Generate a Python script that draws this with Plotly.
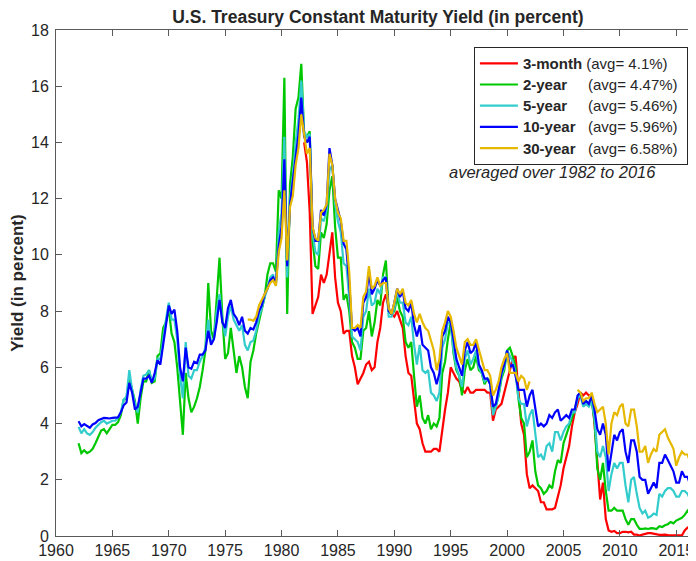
import plotly.graph_objects as go

# Quarterly readings (start of each quarter)
START_10Y = 1962.0
Y10 = [
    4.08, 3.90, 3.98, 3.90,  3.85, 3.97, 4.02, 4.12,
    4.17, 4.20, 4.19, 4.18,  4.20, 4.21, 4.22, 4.40,
    4.65, 4.75, 5.45, 5.10,  4.50, 4.60, 5.05, 5.60,
    5.60, 5.70, 5.45, 5.80,  6.25, 6.10, 6.80, 7.60,
    8.20, 7.90, 8.05, 7.30,  6.00, 5.50, 6.70, 6.00,
    5.95, 6.20, 6.15, 6.45,  6.45, 6.60, 7.30, 6.80,
    7.00, 7.60, 8.40, 7.60,  7.40, 8.10, 8.40, 7.90,
    7.75, 7.50, 7.80, 7.30,  7.20, 7.40, 7.35, 7.60,
    8.00, 8.20, 8.60, 8.80,  9.10, 9.20, 9.00, 10.30,
    11.00, 13.40, 9.60, 11.80,  12.60, 13.60, 14.30, 15.60,
    14.20, 14.00, 14.20, 11.00,  10.50, 10.50, 11.60, 11.40,
    11.80, 13.80, 13.20, 12.00,  11.60, 11.20, 10.40, 10.20,
    9.00, 7.40, 7.30, 7.40,  7.10, 8.30, 8.50, 9.40,
    8.60, 8.80, 9.10, 8.90,  9.10, 9.20, 8.00, 7.90,
    8.30, 8.80, 8.50, 8.70,  8.10, 8.00, 8.30, 7.50,
    7.10, 7.50, 6.80, 6.70,  6.60, 6.00, 5.80, 5.40,
    5.80, 7.10, 7.30, 7.80,  7.60, 7.00, 6.30, 6.00,
    5.70, 6.60, 6.90, 6.50,  6.60, 6.90, 6.10, 5.90,
    5.60, 5.60, 5.40, 4.60,  4.70, 5.20, 5.80, 6.10,
    6.60, 6.00, 6.10, 5.70,  5.20, 5.20, 5.20, 4.60,
    5.00, 5.20, 4.60, 3.90,  4.00, 3.90, 4.00, 4.30,
    4.20, 4.40, 4.50, 4.10,  4.20, 4.30, 4.20, 4.50,
    4.50, 5.00, 5.10, 4.70,  4.80, 4.70, 5.00, 4.50,
    3.80, 3.60, 4.00, 3.60,  2.30, 3.00, 3.60, 3.40,
    3.70, 3.80, 3.00, 2.60,  3.40, 3.40, 3.00, 2.10,
    2.00, 2.00, 1.50, 1.70,  1.90, 1.70, 2.60, 2.60,
    2.90, 2.70, 2.50, 2.30,  1.90, 1.90, 2.30, 2.10,
    2.10, 1.80, 1.50, 1.60,
]

START_5Y = 1962.0
Y5 = [
    3.88, 3.65, 3.80, 3.65,  3.60, 3.70, 3.85, 3.95,
    4.05, 4.10, 4.00, 4.05,  4.10, 4.10, 4.20, 4.40,
    4.85, 4.95, 5.90, 5.20,  4.70, 4.40, 5.20, 5.70,
    5.75, 5.90, 5.50, 5.60,  6.30, 6.30, 7.10, 7.70,
    8.30, 7.70, 7.70, 7.00,  5.70, 4.90, 6.90, 5.70,
    5.60, 5.90, 5.90, 6.20,  6.40, 6.70, 7.70, 6.90,
    7.00, 8.00, 8.60, 7.70,  7.10, 7.80, 8.20, 7.70,
    7.50, 7.30, 7.50, 6.80,  6.60, 6.90, 6.95, 7.30,
    7.80, 8.10, 8.50, 8.80,  9.20, 9.30, 8.90, 10.80,
    11.50, 14.20, 9.20, 12.00,  12.80, 14.00, 14.80, 16.20,
    14.40, 14.20, 14.30, 10.80,  10.10, 10.00, 11.30, 11.20,
    11.60, 13.00, 13.20, 11.80,  11.20, 10.80, 9.70, 9.60,
    8.50, 7.10, 7.00, 6.90,  6.60, 7.80, 8.00, 8.80,
    8.20, 8.30, 8.80, 8.60,  9.20, 9.20, 7.80, 7.80,
    8.10, 8.70, 8.30, 8.30,  7.60, 7.50, 7.80, 6.80,
    6.10, 6.80, 5.90, 5.80,  5.90, 5.10, 5.00, 4.80,
    5.10, 6.70, 7.00, 7.60,  7.60, 6.60, 6.00, 5.70,
    5.30, 6.30, 6.60, 6.10,  6.30, 6.60, 6.00, 5.80,
    5.50, 5.60, 5.40, 4.30,  4.60, 5.00, 5.70, 6.00,
    6.60, 6.40, 6.20, 5.80,  4.90, 4.70, 4.70, 3.90,
    4.30, 4.50, 3.60, 2.80,  2.90, 2.70, 3.20, 3.30,
    3.00, 3.70, 3.70, 3.40,  3.70, 3.90, 4.00, 4.40,
    4.40, 4.90, 5.00, 4.60,  4.70, 4.60, 4.80, 4.20,
    3.00, 2.80, 3.20, 2.80,  1.60, 2.20, 2.60, 2.40,
    2.60, 2.60, 1.80, 1.20,  2.00, 2.10, 1.50, 1.00,
    0.80, 0.90, 0.65, 0.70,  0.80, 0.75, 1.50, 1.40,
    1.60, 1.70, 1.70, 1.60,  1.40, 1.40, 1.60, 1.60,
    1.50, 1.30, 1.10, 1.20,
]

START_2Y = 1962.0
Y2 = [
    3.30, 2.95, 3.05, 2.95,  3.00, 3.10, 3.30, 3.50,
    3.75, 3.80, 3.65, 3.80,  3.95, 3.95, 4.05, 4.30,
    4.85, 4.90, 5.60, 5.20,  4.80, 4.00, 4.90, 5.50,
    5.50, 5.90, 5.45, 5.50,  6.40, 6.50, 7.40, 7.60,
    8.10, 7.20, 6.90, 6.00,  4.80, 3.60, 5.80, 4.90,
    4.40, 4.60, 4.90, 5.30,  5.90, 6.60, 9.00, 7.30,
    7.00, 8.60, 9.90, 7.80,  6.30, 6.50, 7.40, 6.60,
    5.80, 6.40, 6.00, 5.30,  4.90, 6.20, 6.60, 7.20,
    7.60, 8.00, 8.50, 9.30,  9.70, 9.70, 9.40, 12.30,
    12.00, 16.30, 7.90, 12.50,  13.50, 15.20, 15.60, 16.80,
    14.30, 14.20, 14.40, 10.50,  9.60, 9.50, 10.80, 10.60,
    11.10, 12.30, 12.80, 11.00,  9.90, 9.90, 8.40, 8.60,
    8.00, 6.90, 6.70, 6.30,  6.30, 7.30, 7.40, 8.00,
    7.10, 7.60, 8.40, 8.20,  9.30, 9.80, 8.00, 7.90,
    8.00, 8.50, 8.00, 7.80,  6.90, 6.70, 6.90, 5.70,
    4.60, 5.00, 4.20, 4.00,  4.30, 3.80, 4.00, 3.90,
    4.20, 5.80, 6.20, 7.00,  7.60, 6.50, 5.90, 5.70,
    5.00, 5.90, 6.30, 5.90,  6.00, 6.40, 5.90, 5.80,
    5.40, 5.60, 5.50, 4.50,  4.60, 5.00, 5.60, 5.90,
    6.60, 6.70, 6.40, 6.00,  4.90, 4.20, 4.00, 2.80,
    3.00, 3.40, 2.30, 1.80,  1.70, 1.50, 1.60, 1.80,
    1.70, 2.30, 2.70, 2.60,  3.30, 3.60, 3.90, 4.20,
    4.50, 4.90, 5.10, 4.70,  4.80, 4.70, 4.80, 4.10,
    2.40, 2.00, 2.60, 1.60,  0.90, 0.90, 1.00, 0.90,
    0.90, 0.90, 0.60, 0.40,  0.60, 0.60, 0.40, 0.25,
    0.25, 0.27, 0.25, 0.28,  0.27, 0.25, 0.35, 0.32,
    0.38, 0.42, 0.50, 0.45,  0.55, 0.60, 0.65, 0.75,
    0.90, 0.75, 0.70, 0.75,
]

START_3M = 1982.0
M3 = [
    14.00, 13.30, 11.50, 7.90,  8.20, 8.50, 9.30, 9.00,
    9.30, 10.00, 10.80, 9.20,  8.30, 8.00, 7.20, 7.30,
    7.30, 6.40, 6.00, 5.40,  5.60, 5.80, 6.10, 6.20,
    5.90, 6.00, 6.90, 7.40,  8.30, 8.60, 8.10, 7.90,
    7.80, 8.00, 7.70, 7.40,  6.40, 5.80, 5.70, 4.90,
    4.00, 3.80, 3.30, 3.00,  3.00, 3.00, 3.10, 3.10,
    3.00, 3.80, 4.50, 5.10,  6.00, 5.80, 5.60, 5.50,
    5.20, 5.10, 5.30, 5.10,  5.10, 5.20, 5.20, 5.20,
    5.20, 5.10, 5.10, 4.10,  4.50, 4.60, 4.70, 5.10,
    5.50, 5.90, 6.30, 6.40,  5.30, 4.00, 3.60, 2.20,
    1.70, 1.80, 1.70, 1.60,  1.20, 1.20, 0.95, 0.95,
    0.95, 1.00, 1.40, 1.80,  2.40, 2.80, 3.20, 3.90,
    4.40, 4.70, 5.10, 5.00,  5.10, 5.00, 5.00, 4.00,
    2.80, 1.30, 1.90, 0.60,  0.20, 0.15, 0.18, 0.10,
    0.10, 0.15, 0.15, 0.13,  0.15, 0.05, 0.05, 0.02,
    0.05, 0.08, 0.10, 0.10,  0.08, 0.05, 0.04, 0.04,
    0.05, 0.03, 0.03, 0.02,  0.03, 0.02, 0.02, 0.20,
    0.30, 0.25, 0.30, 0.30,
]

START_30Y = 1977.0
Y30 = [
    7.70, 7.70, 7.65, 7.80,  8.20, 8.40, 8.60, 8.80,
    9.00, 9.10, 8.90, 10.10,  10.60, 12.30, 9.80, 11.70,
    12.10, 13.20, 13.80, 15.00,  14.20, 13.60, 13.80, 11.00,
    10.60, 10.50, 11.50, 11.60,  11.80, 13.60, 13.20, 12.00,
    11.50, 11.30, 10.50, 10.50,  9.40, 7.40, 7.40, 7.50,
    7.40, 8.50, 8.70, 9.60,  8.80, 8.90, 9.20, 8.90,
    9.00, 9.00, 8.10, 7.90,  8.30, 8.80, 8.60, 8.80,
    8.30, 8.20, 8.40, 7.90,  7.60, 7.90, 7.60, 7.40,
    7.30, 6.90, 6.60, 5.90,  6.30, 7.30, 7.60, 8.00,
    7.80, 7.30, 6.70, 6.40,  6.10, 6.90, 7.00, 6.80,
    6.80, 7.00, 6.60, 6.30,  5.90, 5.90, 5.70, 5.00,
    5.20, 5.50, 6.00, 6.30,  6.50, 5.80, 5.80, 5.80,
    5.50, 5.70, 5.60, 5.20,
    5.50, None, None, None,  None, None, None, None,
    None, None, None, None,  None, None, None, None,
    None, 5.20, 5.10, 4.80,
    4.90, 4.90, 5.10, 4.70,  4.40, 4.50, 4.60, 4.00,
    2.90, 4.00, 4.40, 4.30,  4.60, 4.70, 4.00, 3.90,
    4.50, 4.50, 3.90, 3.00,  3.00, 3.20, 2.60, 2.90,
    3.10, 3.00, 3.60, 3.70,  3.80, 3.50, 3.30, 3.10,
    2.50, 2.80, 3.00, 2.90,  2.90, 2.60, 2.30, 2.30,
]

SERIES = [
    ("3-month", "(avg= 4.1%)", 1, START_3M, M3, "#ff0000"),
    ("2-year", "(avg= 4.47%)", 5, START_2Y, Y2, "#00c800"),
    ("5-year", "(avg= 5.46%)", 5, START_5Y, Y5, "#33cccc"),
    ("10-year", "(avg= 5.96%)", 3, START_10Y, Y10, "#0000ff"),
    ("30-year", "(avg= 6.58%)", 3, START_30Y, Y30, "#e6b800"),
]

X_TICKS = list(range(1960, 2016, 5))
Y_TICKS = list(range(0, 19, 2))

FONT = "Liberation Sans, Arial, Helvetica, sans-serif"
AXC = "#5a5a5a"
TXT = "#262626"

fig = go.Figure()
for name, avg, nsp, start, vals, color in SERIES:
    xs = [start + 0.25 * i for i in range(len(vals))]
    label = ("<span style='font-size:15px'><b>" + name + "</b>" + "\u00a0" * nsp
             + avg + "\u00a0</span>")
    fig.add_trace(go.Scatter(x=xs, y=vals, mode="lines", name=label,
                             line=dict(color=color, width=2.2), connectgaps=False))

# page has an 8px body margin: figure occupies page pixels 8..696 x 8..561
fig.update_layout(
    width=688, height=553,
    margin=dict(l=48, r=0, t=21.5, b=25, pad=0),
    paper_bgcolor="white", plot_bgcolor="white",
    font=dict(family=FONT, size=16, color=TXT),
    title=dict(text="<b>U.S. Treasury Constant Maturity Yield (in percent)</b>",
               x=0.503, xref="paper", xanchor="center",
               y=1 - 9 / 553, yref="container", yanchor="middle",
               font=dict(size=17.5, color=TXT)),
    xaxis=dict(range=[1960, 2016.75], tickvals=X_TICKS, ticks="inside", ticklen=6,
               tickcolor=AXC, showline=True, linecolor=AXC, linewidth=1, mirror="ticks",
               showgrid=False, zeroline=False, tickfont=dict(size=16, color=TXT)),
    yaxis=dict(range=[0, 18], tickvals=Y_TICKS, ticks="inside", ticklen=6,
               tickcolor=AXC, showline=True, linecolor=AXC, linewidth=1,
               showgrid=False, zeroline=False, tickfont=dict(size=16, color=TXT),
               ticklabelstandoff=3,
               title=dict(text="<b>Yield (in percent)</b>", font=dict(size=17, color=TXT),
                          standoff=4)),
    yaxis2=dict(range=[0, 18], tickvals=Y_TICKS, overlaying="y", side="right",
                ticks="inside", ticklen=3, tickcolor=AXC, showline=False,
                showticklabels=False, showgrid=False, zeroline=False),
    legend=dict(x=0.653, y=0.967, xanchor="left", yanchor="top",
                bordercolor=TXT, borderwidth=1, bgcolor="white", itemwidth=38,
                font=dict(size=14, color=TXT), tracegroupgap=0),
    showlegend=True,
)

fig.add_annotation(text="<i>averaged over 1982 to 2016</i>", x=0.775, y=0.7187,
                   xref="paper", yref="paper", xanchor="center", yanchor="middle",
                   showarrow=False, font=dict(size=16.5, color=TXT))

fig.write_html("out.html")
